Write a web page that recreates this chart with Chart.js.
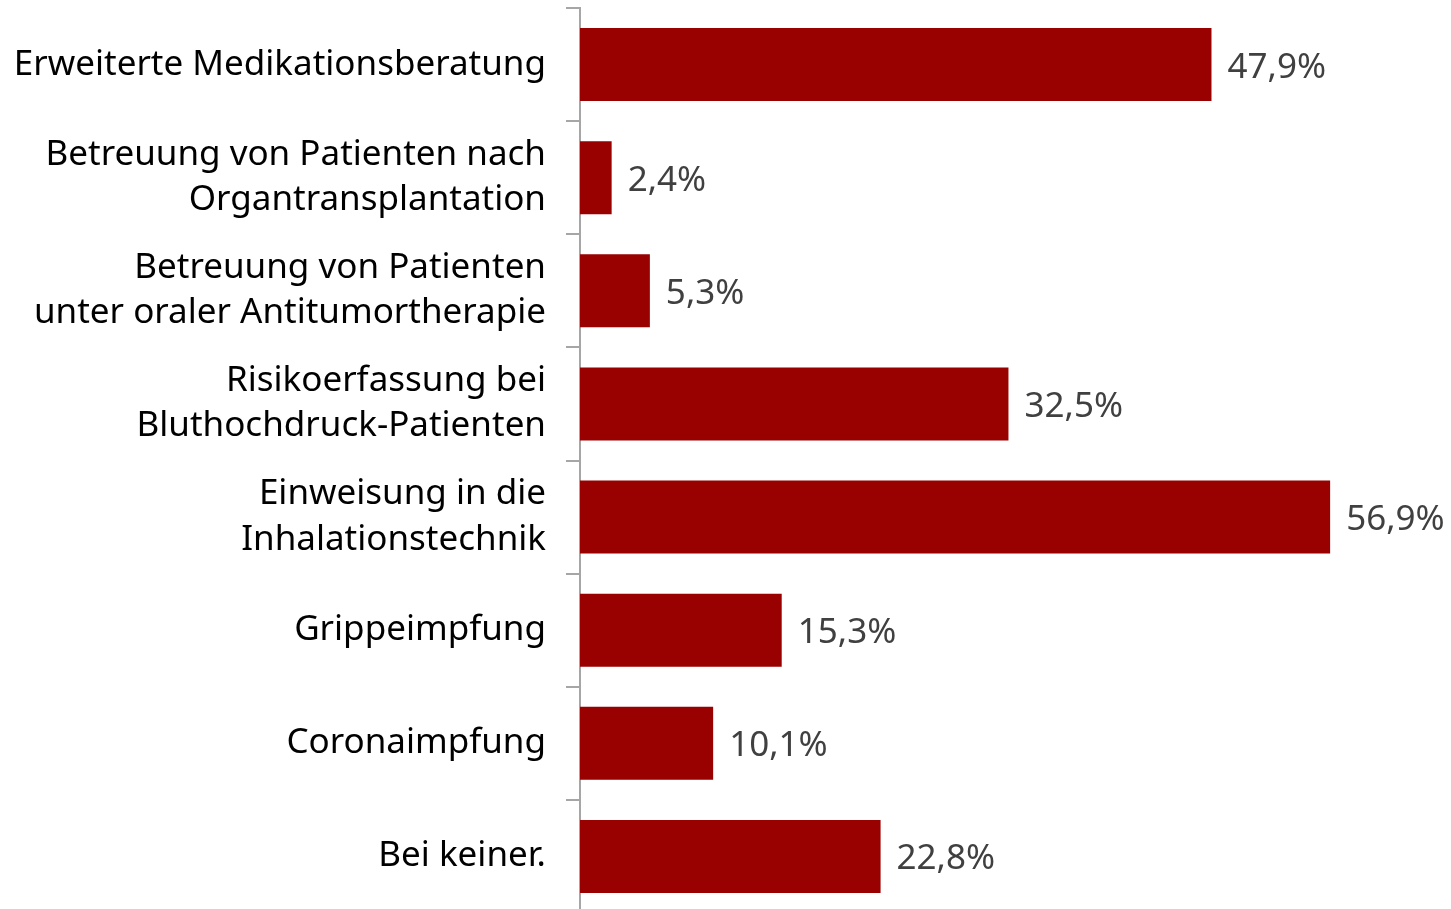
<!DOCTYPE html>
<html>
<head>
<meta charset="utf-8">
<script src="https://cdn.jsdelivr.net/npm/chart.js@4.4.1/dist/chart.umd.min.js"></script>
<style>
  html, body { margin: 0; padding: 0; background: #fff; overflow: hidden; }
  #wrap { position: relative; width: 1451px; height: 913px; }
</style>
</head>
<body>
<div id="wrap"><canvas id="grafico_barras"></canvas></div>
<script>
const categorias = [
    'Erweiterte Medikationsberatung',
    ['Betreuung von Patienten nach', 'Organtransplantation'],
    ['Betreuung von Patienten', 'unter oraler Antitumortherapie'],
    ['Risikoerfassung bei', 'Bluthochdruck-Patienten'],
    ['Einweisung in die', 'Inhalationstechnik'],
    'Grippeimpfung',
    'Coronaimpfung',
    'Bei keiner.'
];
const valores = [47.9, 2.4, 5.3, 32.5, 56.9, 15.3, 10.1, 22.8];

const fuente = "'Noto Sans', 'Open Sans', sans-serif";

// etiquetas de valor a la derecha de cada barra
const etiquetasValor = {
    id: 'etiquetasValor',
    afterDatasetsDraw(chart) {
        const ctx = chart.ctx;
        const meta = chart.getDatasetMeta(0);
        ctx.save();
        ctx.font = '35px ' + fuente;
        ctx.fillStyle = '#404040';
        ctx.textAlign = 'left';
        ctx.textBaseline = 'middle';
        meta.data.forEach(function (barra, i) {
            const texto = valores[i].toFixed(1).replace('.', ',') + '%';
            ctx.fillText(texto, barra.x + 16, barra.y + 3);
        });
        ctx.restore();
    }
};

const ctx = document.getElementById('grafico_barras');
new Chart(ctx, {
    type: 'bar',
    data: {
        labels: categorias,
        datasets: [{
            data: valores,
            backgroundColor: '#990000',
            borderWidth: 0,
            categoryPercentage: 1,
            barPercentage: 0.646
        }]
    },
    options: {
        indexAxis: 'y',
        responsive: true,
        maintainAspectRatio: false,
        animation: false,
        layout: { padding: { top: 8, right: 80, left: 0, bottom: 0 } },
        plugins: {
            legend: { display: false },
            tooltip: { enabled: false }
        },
        scales: {
            x: {
                display: false,
                min: 0,
                max: 60
            },
            y: {
                afterFit: function (scale) {
                    scale.width = 580;
                    scale.paddingTop = 0;
                    scale.paddingBottom = 0;
                },
                border: { display: true, color: '#a6a6a6', width: 2 },
                grid: {
                    offset: true,
                    drawOnChartArea: false,
                    drawTicks: true,
                    tickLength: 14,
                    color: '#a6a6a6',
                    lineWidth: 2
                },
                ticks: {
                    color: '#000000',
                    padding: 20,
                    font: { family: fuente, size: 35, lineHeight: 1.29 }
                }
            }
        }
    },
    plugins: [etiquetasValor]
});
</script>
</body>
</html>
